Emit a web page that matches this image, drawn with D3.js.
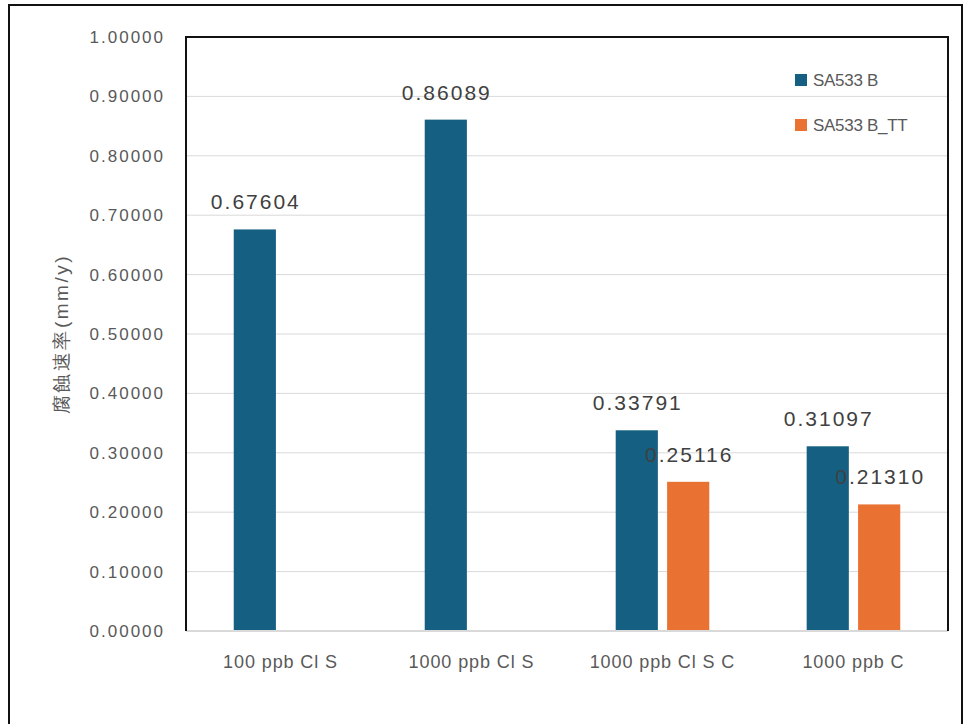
<!DOCTYPE html>
<html>
<head>
<meta charset="utf-8">
<script src="https://cdn.jsdelivr.net/npm/d3@7/dist/d3.min.js"></script>
<style>
  html, body { margin: 0; padding: 0; background: #fff; }
  svg { display: block; }
  text { font-family: "Liberation Sans", Arial, sans-serif; }
</style>
</head>
<body>
<svg id="chart" width="965" height="724"></svg>
<script>
// Corrosion rate by test condition
const categories = ["100 ppb Cl S", "1000 ppb Cl S", "1000 ppb Cl S C", "1000 ppb C"];
const seriesNames = ["SA533 B", "SA533 B_TT"];
const seriesA = [0.67604, 0.86089, 0.33791, 0.31097];   // SA533 B
const seriesB = [null, null, 0.25116, 0.21310];         // SA533 B_TT
const yTicks = [0, 0.1, 0.2, 0.3, 0.4, 0.5, 0.6, 0.7, 0.8, 0.9, 1.0];
const colors = ["#156082", "#E97132"];
const yTitle = "腐蝕速率(mm/y)";

const svg = d3.select("#chart");
const plot = { left: 186, top: 37, right: 948, bottom: 631 };

// outer frame
svg.append("path")
  .attr("d", `M9,724 L9,5 L962,5 L962,724`)
  .attr("fill", "none").attr("stroke", "#111").attr("stroke-width", 2);

const x0 = d3.scaleBand().domain(categories)
  .range([plot.left, plot.right]).paddingInner(0.51).paddingOuter(0.25);
const x1 = d3.scaleBand().domain(seriesNames)
  .range([0, x0.bandwidth()]).paddingInner(0.18);
const y = d3.scaleLinear().domain([0, 1]).range([plot.bottom, plot.top]);

// gridlines
svg.append("g").selectAll("line").data(yTicks.filter(d => d > 0 && d < 1)).join("line")
  .attr("x1", plot.left).attr("x2", plot.right)
  .attr("y1", d => y(d)).attr("y2", d => y(d))
  .attr("stroke", "#d9d9d9").attr("stroke-width", 1);

// y axis labels
const yAxis = d3.axisLeft(y).tickValues(yTicks).tickFormat(d3.format(".5f")).tickSize(0).tickPadding(21);
const gy = svg.append("g").attr("transform", `translate(${plot.left},0)`).call(yAxis);
gy.select(".domain").remove();
gy.selectAll("text").attr("fill", "#595959").attr("font-size", 17).style("letter-spacing", "2px");

// x axis labels
const xAxis = d3.axisBottom(x0).tickSize(0).tickPadding(24);
const gx = svg.append("g").attr("transform", `translate(0,${plot.bottom})`).call(xAxis);
gx.select(".domain").remove();
gx.selectAll("text").attr("fill", "#595959").attr("font-size", 18).style("letter-spacing", "0.9px");

// bars
const rows = categories.map((c, i) => ({ cat: c, vals: [seriesA[i], seriesB[i]] }));
const groups = svg.append("g").selectAll("g").data(rows).join("g")
  .attr("transform", d => `translate(${x0(d.cat)},0)`);

const items = groups.selectAll("g.bar")
  .data(d => d.vals.map((v, k) => ({ key: seriesNames[k], v, k })).filter(e => e.v != null))
  .join("g").attr("class", "bar");

items.append("rect")
  .attr("x", d => x1(d.key)).attr("width", x1.bandwidth())
  .attr("y", d => y(d.v)).attr("height", d => y(0) - y(d.v))
  .attr("fill", d => colors[d.k]);

items.append("text")
  .attr("x", d => x1(d.key) + x1.bandwidth() / 2 + 1)
  .attr("y", d => y(d.v) - 20)
  .attr("text-anchor", "middle")
  .attr("font-size", 21).style("letter-spacing", "2px")
  .attr("fill", "#404040")
  .text(d => d3.format(".5f")(d.v));

// x baseline
svg.append("line")
  .attr("x1", plot.left).attr("x2", plot.right)
  .attr("y1", plot.bottom).attr("y2", plot.bottom)
  .attr("stroke", "#d9d9d9").attr("stroke-width", 2);

// plot frame (left, top, right)
svg.append("path")
  .attr("d", `M${plot.left},${plot.bottom} L${plot.left},${plot.top} L${plot.right},${plot.top} L${plot.right},${plot.bottom}`)
  .attr("fill", "none").attr("stroke", "#111").attr("stroke-width", 2);

// y-axis title
svg.append("text")
  .attr("transform", `translate(68,334) rotate(-90)`)
  .attr("text-anchor", "middle")
  .attr("font-family", "'Noto Sans CJK TC', 'Noto Sans CJK SC', sans-serif")
  .attr("font-size", 19).attr("fill", "#595959")
  .style("letter-spacing", "2.5px")
  .text(yTitle);

// legend
const legend = svg.append("g").attr("transform", "translate(795,74)");
const li = legend.selectAll("g").data(seriesNames).join("g")
  .attr("transform", (d, i) => `translate(0,${i * 45})`);
li.append("rect").attr("width", 12).attr("height", 12).attr("fill", (d, i) => colors[i]);
li.append("text").attr("x", 18).attr("y", 12).attr("font-size", 17)
  .attr("fill", "#595959").style("letter-spacing", "-0.3px").text(d => d);
</script>
</body>
</html>
